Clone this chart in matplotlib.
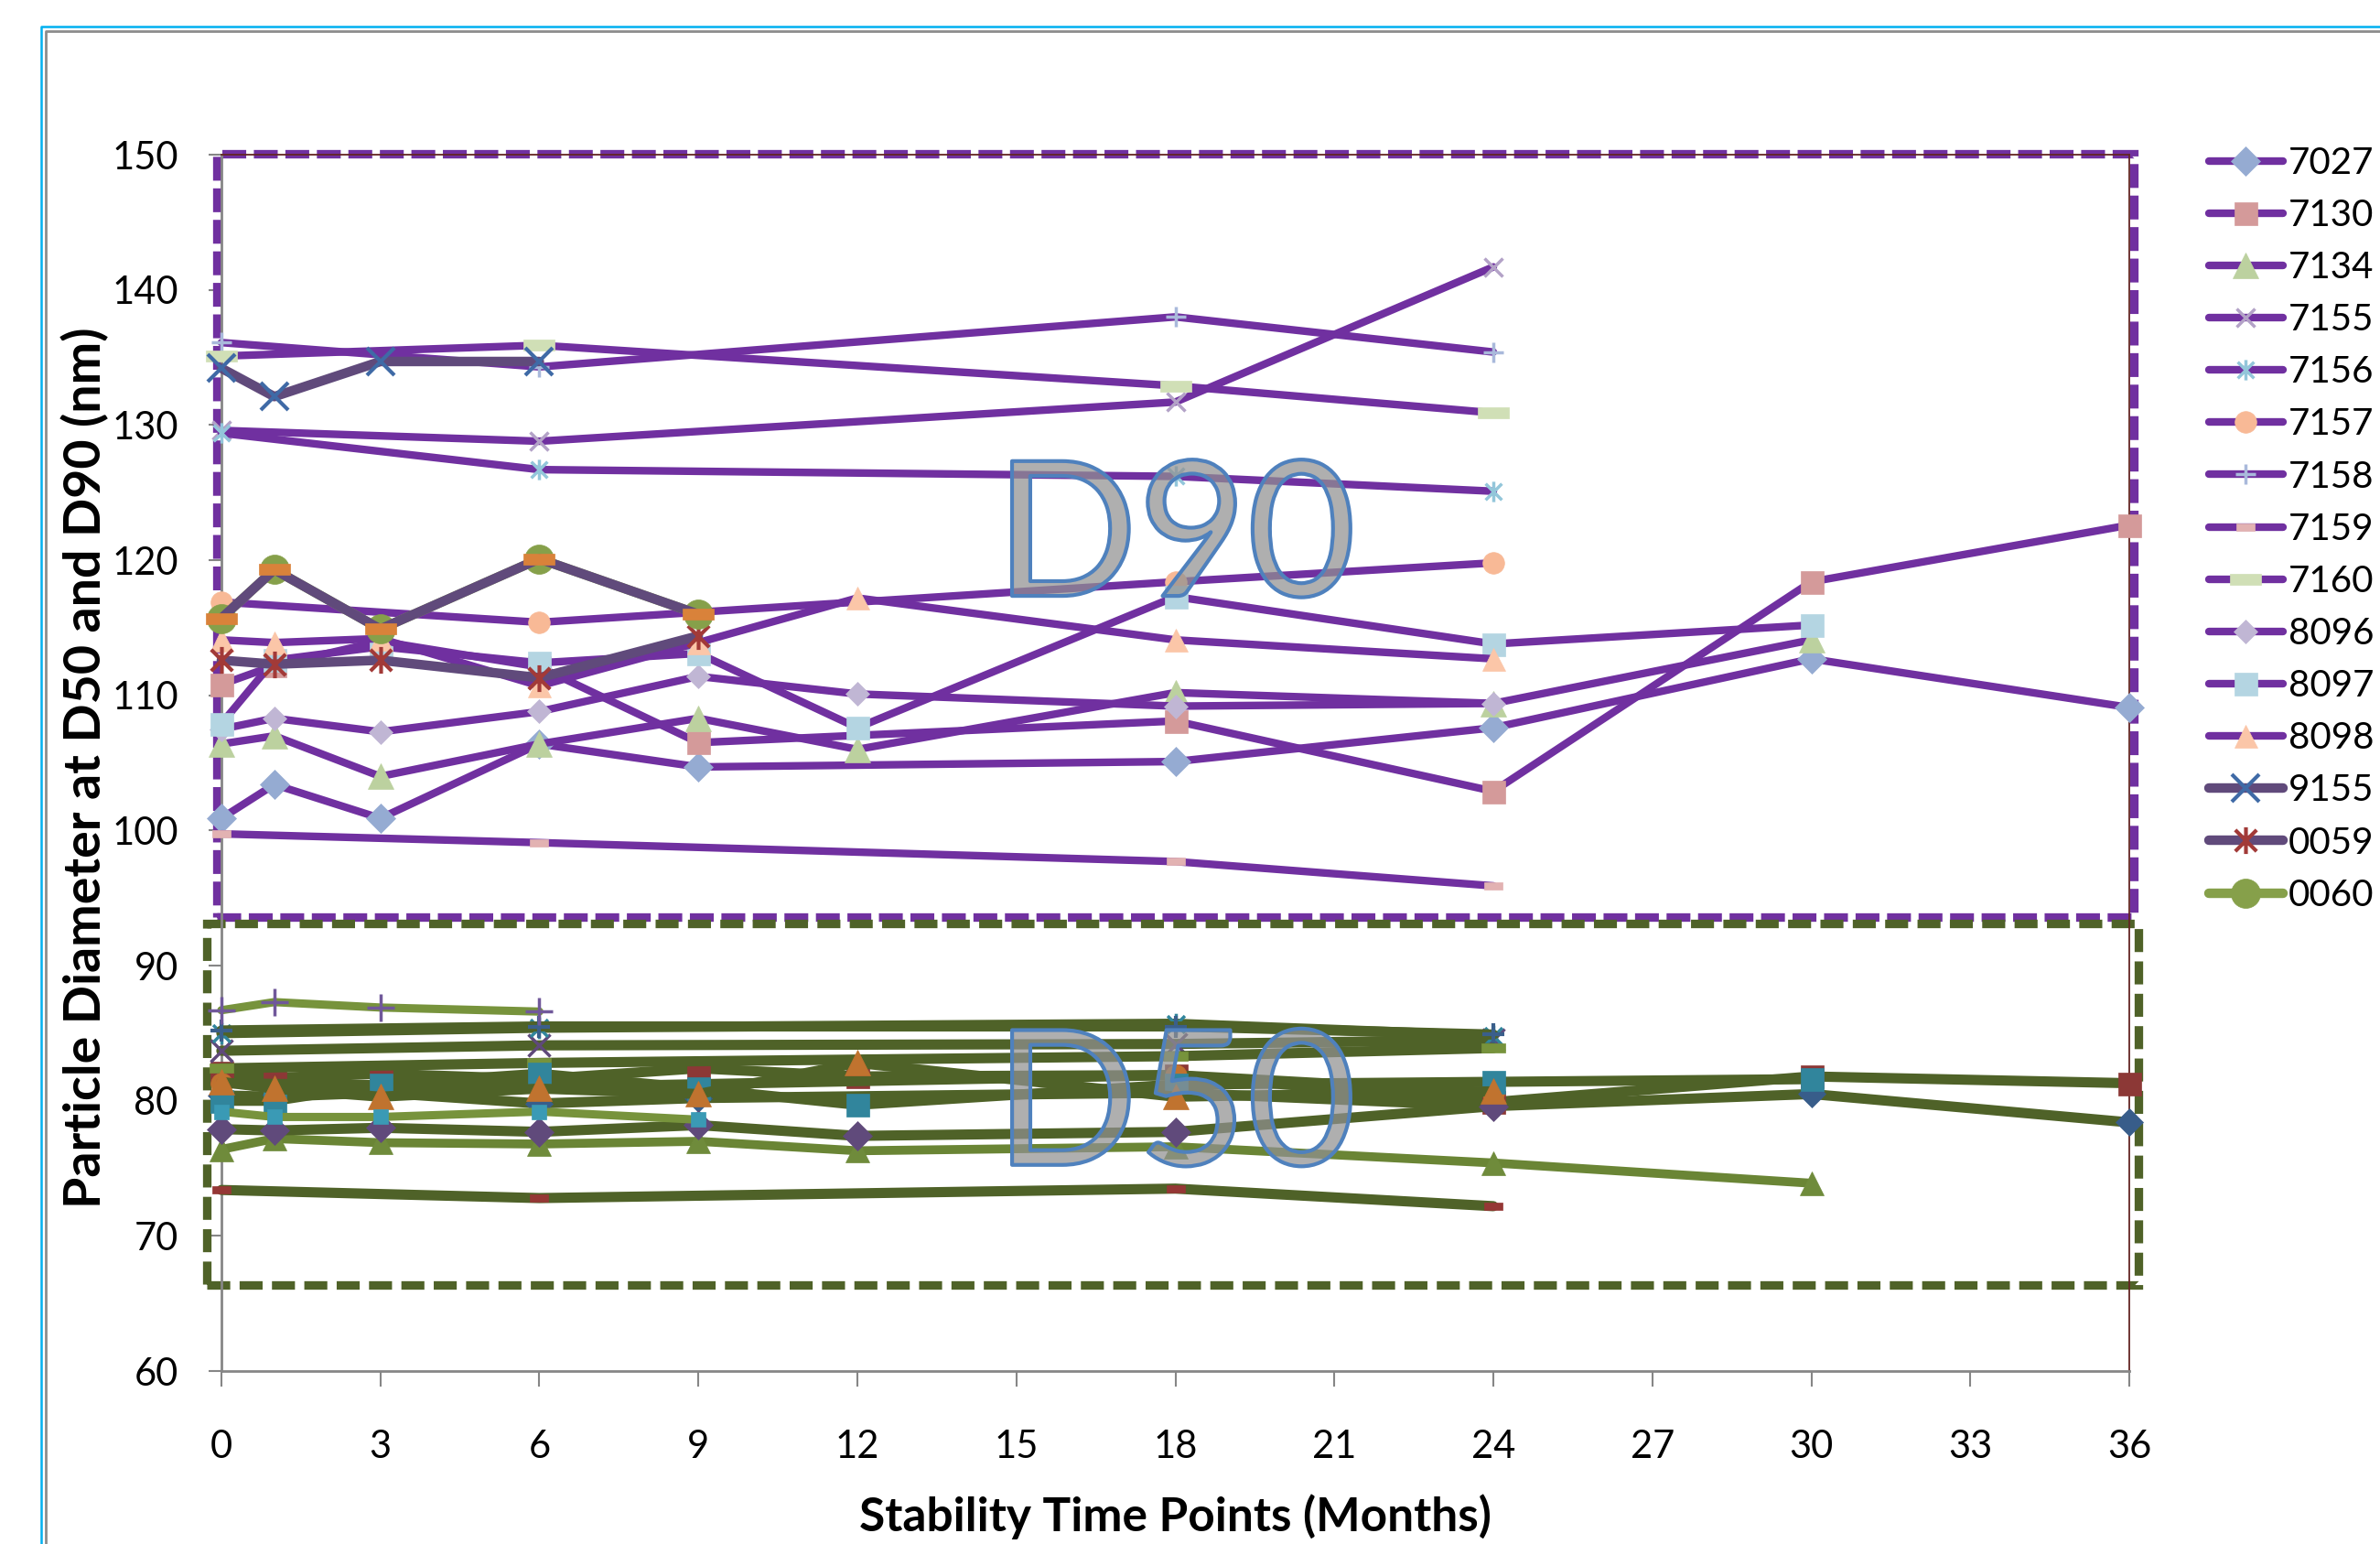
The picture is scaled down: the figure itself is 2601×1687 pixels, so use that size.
import matplotlib
matplotlib.use("Agg")
import matplotlib.pyplot as plt
import numpy as np
from matplotlib.path import Path
from matplotlib.patches import Rectangle
from matplotlib.lines import Line2D
import matplotlib.patheffects as pe

plt.rcParams.update({
    "font.family": ["Lato", "DejaVu Sans"],
    "font.size": 30,
})

# ---------------- data ----------------
N = None
months = [0, 1, 3, 6, 9, 12, 18, 24, 30, 36]

# D90 series
d90_7027 = [100.9, 103.4, 100.9, 106.4, 104.7, N, 105.1, 107.6, 112.7, 109.1]
d90_7130 = [110.8, 112.2, 114.0, 112.1, 106.5, N, 108.1, 102.9, 118.4, 122.6]
d90_7134 = [106.4, 107.0, 104.0, 106.4, 108.3, 106.0, 110.2, 109.4, 114.1, N]
d90_7155 = [129.6, N, N, 128.8, N, N, 131.7, 141.7, N, N]
d90_7156 = [129.4, N, N, 126.7, N, N, 126.2, 125.1, N, N]
d90_7157 = [116.9, N, N, 115.4, N, N, 118.4, 119.8, N, N]
d90_7158 = [136.1, N, N, 134.3, N, N, 138.0, 135.4, N, N]
d90_7159 = [99.75, N, N, 99.1, N, N, 97.7, 95.9, N, N]
d90_7160 = [135.1, N, N, 135.9, N, N, 132.9, 130.9, N, N]
d90_8096 = [107.5, 108.3, 107.3, 108.8, 111.4, 110.1, 109.2, 109.4, N, N]
d90_8097 = [107.9, 112.6, 113.6, 112.4, 113.1, 107.6, 117.3, 113.8, 115.2, N]
d90_8098 = [114.1, 113.9, 114.2, 110.7, 113.9, 117.2, 114.1, 112.7, N, N]
d90_9155 = [134.2, 132.1, 134.7, 134.7, N, N, N, N, N, N]
d90_0059 = [112.6, 112.3, 112.6, 111.3, 114.4, N, N, N, N, N]
d90_0060 = [115.7, 119.3, 114.9, 120.1, 116.0, N, N, N, N, N]

# D50 series
d50_7027 = [80.4, 80.3, 80.6, 79.8, 80.2, N, 80.6, 79.6, 80.5, 78.4]
d50_7130 = [82.1, 81.7, 82.0, 81.6, 82.4, 81.8, 81.9, 79.9, 81.8, 81.3]
d50_7134 = [76.4, 77.2, 76.9, 76.8, 77.0, 76.3, 76.6, 75.4, 73.9, N]
d50_7155 = [83.7, N, N, 84.1, N, N, 84.2, 84.5, N, N]
d50_7156 = [85.0, N, N, 85.4, N, N, 85.7, 84.8, N, N]
d50_7157 = [81.3, N, N, 81.0, N, N, 81.9, 80.6, N, N]
d50_7158 = [85.2, N, N, 85.5, N, N, 85.5, 84.9, N, N]
d50_7159 = [73.4, N, N, 72.8, N, N, 73.5, 72.2, N, N]
d50_7160 = [82.4, N, N, 82.8, N, N, 83.3, 83.9, N, N]
d50_8096 = [77.9, 77.8, 78.0, 77.7, 78.2, 77.4, 77.7, 79.6, N, N]
d50_8097 = [80.0, 80.0, 81.2, 82.0, 80.9, 79.7, 81.2, 81.4, 81.6, N]
d50_8098 = [81.4, 80.9, 80.3, 80.9, 80.5, 82.8, 80.3, 80.7, N, N]
d50_9155 = [86.7, 87.3, 86.9, 86.6, N, N, N, N, N, N]
d50_0059 = [79.2, 78.8, 78.8, 79.2, 78.6, N, N, N, N, N]

x_ticks = list(range(0, 37, 3))
y_ticks = list(range(60, 151, 10))

# ---------------- custom markers ----------------
asterisk = Path([(-1, -1), (1, 1), (-1, 1), (1, -1), (0, -1.25), (0, 1.25)],
                [Path.MOVETO, Path.LINETO] * 3)
bar = Path([(-1, -0.38), (1, -0.38), (1, 0.38), (-1, 0.38), (-1, -0.38)],
           [Path.MOVETO] + [Path.LINETO] * 3 + [Path.CLOSEPOLY])

PURPLE, SLATE = "#7030a0", "#604a7b"
OLIVE, LOLIVE = "#4f6228", "#77933c"


def pts(vals):
    y = np.array([np.nan if v is None else v for v in vals], float)
    x = np.array(months, float)
    ok = ~np.isnan(y)
    return x[ok], y[ok]


fig = plt.figure(figsize=(26.01, 16.87), dpi=100)
ax = fig.add_axes([0.0930, 0.1120, 0.8017, 0.7878])

def draw(vals, line, mk, mc, ms, lw, label="_nolegend_", mew=2.0):
    x, y = pts(vals)
    filled = mk not in ("x", "+", asterisk)
    ax.plot(x, y, color=line, lw=lw, marker=mk, ms=ms,
            mfc=mc if filled else "none", mec=mc, mew=mew if not filled else 0.5,
            solid_capstyle="round", solid_joinstyle="round",
            label=label, clip_on=False, zorder=3)

# D90 lines
draw(d90_7027, PURPLE, "D", "#95abd2", 16, 6, "7027")
draw(d90_7130, PURPLE, "s", "#d49a9a", 18, 6, "7130")
draw(d90_7134, PURPLE, "^", "#bcd19f", 20, 6, "7134")
draw(d90_7155, PURPLE, "x", "#b3a2c7", 15, 6, "7155", mew=2.5)
draw(d90_7156, PURPLE, asterisk, "#93c6da", 16, 6, "7156", mew=2.5)
draw(d90_7157, PURPLE, "o", "#f8b996", 17, 6, "7157")
draw(d90_7158, PURPLE, "+", "#a9b9db", 16, 6, "7158", mew=2.5)
draw(d90_7159, PURPLE, bar, "#e2b2b2", 15, 6, "7159")
draw(d90_7160, PURPLE, bar, "#d0dfb6", 24, 6, "7160")
draw(d90_8096, PURPLE, "D", "#c0b6d4", 13, 6, "8096")
draw(d90_8097, PURPLE, "s", "#b4d5e2", 18, 6, "8097")
draw(d90_8098, PURPLE, "^", "#fbc6a8", 18, 6, "8098")
draw(d90_9155, SLATE, "x", "#3f6aa6", 21, 7.5, "9155", mew=3)
draw(d90_0059, SLATE, asterisk, "#a23a38", 21, 7.5, "0059", mew=3)
draw(d90_0060, "#86a04a", "o", "#86a04a", 23, 7.5, "0060")
draw(d90_0060, SLATE, bar, "#d9823a", 24, 7.5)

# D50 lines
draw(d50_7027, OLIVE, "D", "#385d8a", 15, 8)
draw(d50_7130, OLIVE, "s", "#8c3836", 18, 8)
draw(d50_7134, "#6a8535", "^", "#6f8b3b", 19, 7)
draw(d50_7155, OLIVE, "x", "#5f497a", 17, 8, mew=2.5)
draw(d50_7156, OLIVE, asterisk, "#31859c", 17, 8, mew=2.5)
draw(d50_7157, OLIVE, "o", "#c0722f", 17, 8)
draw(d50_7158, OLIVE, "+", "#3a5f8b", 17, 8, mew=3)
draw(d50_7159, OLIVE, bar, "#953735", 15, 8)
draw(d50_7160, OLIVE, bar, LOLIVE, 19, 8)
draw(d50_8096, OLIVE, "D", "#604a7b", 16, 8)
draw(d50_8097, OLIVE, "s", "#31859c", 18, 8)
draw(d50_8098, OLIVE, "^", "#c0732f", 20, 8)
draw(d50_9155, LOLIVE, "+", "#70589a", 21, 6.5, mew=2.5)
draw(d50_0059, LOLIVE, "s", "#3a9ab5", 12, 6.5)

# dashed boxes round the two groups
ax.add_patch(Rectangle((-0.09, 93.6), 36.17, 56.5, fill=False, ec=PURPLE,
                       lw=6.7, ls=(0, (2.8, 0.9)), clip_on=False, zorder=2))
ax.add_patch(Rectangle((-0.28, 66.4), 36.45, 26.75, fill=False, ec=OLIVE,
                       lw=6.7, ls=(0, (2.7, 1.1)), clip_on=False, zorder=2))

# D90 / D50 watermark labels
for txt, yv in (("D90", 121.3), ("D50", 79.2)):
    ax.text(18.0, yv, txt, fontsize=148, ha="center", va="center",
            color=(0.57, 0.57, 0.57, 0.72), zorder=6)
    ax.text(18.0, yv, txt, fontsize=148, ha="center", va="center",
            color=(0, 0, 0, 0), zorder=7,
            path_effects=[pe.Stroke(linewidth=3, foreground="#4f81bd")])

# axes
ax.set_xlim(0, 36)
ax.set_ylim(60, 150)
ax.set_xticks(x_ticks)
ax.set_yticks(y_ticks)
for s in ("left", "bottom"):
    ax.spines[s].set_color("#868686")
    ax.spines[s].set_linewidth(2)
for s in ("top", "right"):
    ax.spines[s].set_color("#632523")
    ax.spines[s].set_linewidth(1.3)
ax.tick_params(axis="x", direction="out", length=12, width=1.5,
               color="#868686", pad=34, labelsize=30)
ax.tick_params(axis="y", direction="out", length=10, width=1.5,
               color="#868686", pad=24, labelsize=30)

fig.text(0.0357, 0.503, "Particle Diameter at D50 and D90 (nm)", rotation=90,
         ha="center", va="center", fontsize=40, fontweight="bold")
fig.text(0.494, 0.003, "Stability Time Points (Months)", ha="center", va="bottom",
         fontsize=37, fontweight="bold")

ax.legend(loc="upper left", bbox_to_anchor=(1.0417, 1.007), frameon=False,
          borderaxespad=0, borderpad=0, handlelength=2.0, handletextpad=0.15,
          labelspacing=0.5, fontsize=29)

# chart-area frame lines
fig.add_artist(Line2D([0.0173, 0.0173, 1.0], [0.0, 0.9828, 0.9828],
                      transform=fig.transFigure, color="#00b0f0", lw=1.8))
fig.add_artist(Line2D([0.0192, 0.0192, 1.0], [0.0, 0.9798, 0.9798],
                      transform=fig.transFigure, color="#8c8c8c", lw=2))

fig.savefig("out.png", dpi=100)
